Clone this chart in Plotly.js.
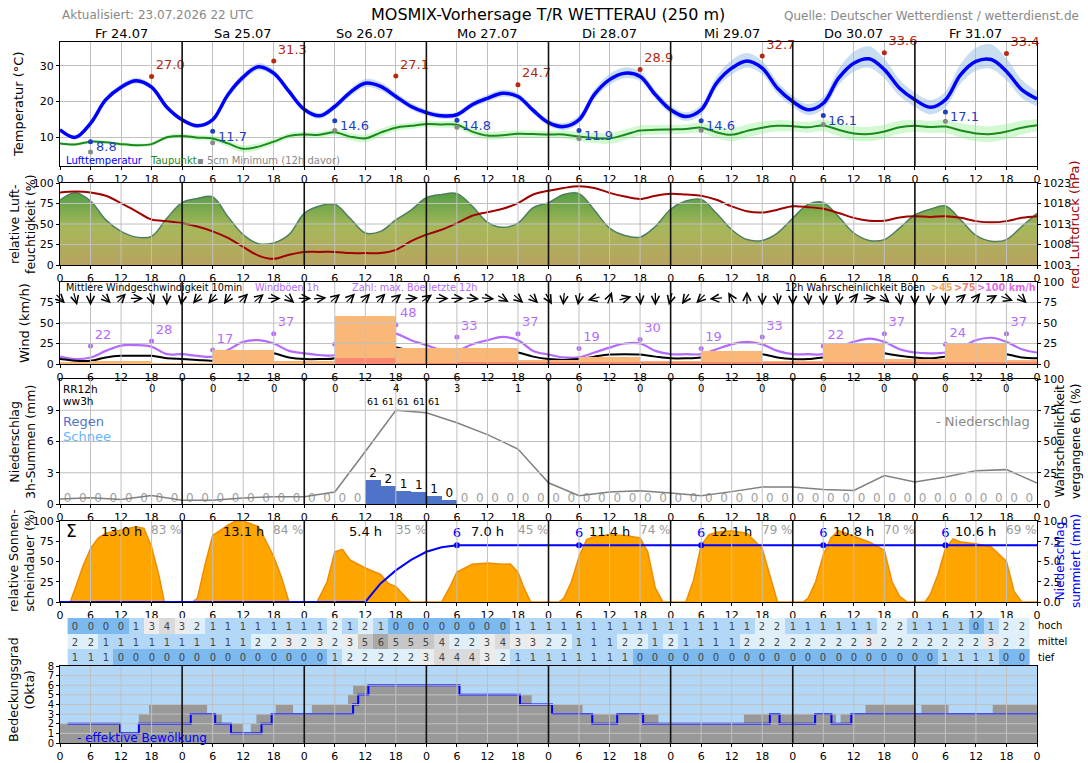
<!DOCTYPE html>
<html><head><meta charset="utf-8">
<script src="https://cdn.plot.ly/plotly-3.0.1.min.js"></script>
<style>html,body{margin:0;padding:0;background:#fff}#chart{width:1088px;height:763px}</style>
</head><body><div id="chart"></div>
<script>
// ---------------- DATA ----------------
const dayNames = ["Fr 24.07","Sa 25.07","So 26.07","Mo 27.07","Di 28.07","Mi 29.07","Do 30.07","Fr 31.07"];
const hours3 = []; for (let h = 0; h <= 192; h += 3) hours3.push(h);

const temp = [12.1,10.0,13.9,20.5,24.0,25.8,24.0,18.4,14.9, 13.2,14.9,21.9,26.8,29.7,27.9,22.8,17.8, 16.0,18.6,22.5,25.1,24.2,21.4,18.6,16.9, 16.0,16.3,19.1,20.9,22.3,21.4,17.5,14.1, 13.0,14.9,21.9,26.1,27.9,27.0,21.9,17.7, 15.8,17.7,25.1,29.3,31.3,29.3,23.7,20.0, 17.7,19.5,26.5,30.7,31.9,28.9,23.7,20.5, 18.4,20.5,27.5,31.2,31.7,28.4,23.3,20.7];
const tempUp = [0.5,0.5,0.6,0.7,0.8,0.8,0.7,0.6,0.6, 0.6,0.7,0.9,1.0,1.0,0.9,0.8,0.8, 0.8,0.9,1.0,1.2,1.2,1.1,1.0,0.9, 0.8,0.8,0.9,1.0,1.0,0.9,0.9,0.9, 1.0,1.2,1.4,1.6,1.6,1.4,1.3,1.2, 1.2,1.4,1.8,2.2,2.2,2.0,1.8,1.6, 1.6,1.8,2.5,3.2,3.5,3.0,2.4,2.0, 2.0,2.3,3.0,3.8,4.2,3.6,2.8,2.2];
const tempDown = [0.5,0.5,0.6,0.7,0.8,0.8,0.7,0.6,0.6, 0.6,0.7,0.9,1.0,1.0,0.9,0.8,0.8, 0.8,0.9,1.0,1.1,1.1,1.0,0.9,0.9, 0.8,0.8,0.9,1.0,1.0,0.9,0.9,0.9, 1.0,1.1,1.2,1.4,1.4,1.3,1.2,1.2, 1.2,1.3,1.5,1.8,1.8,1.7,1.6,1.5, 1.5,1.6,2.0,2.4,2.5,2.4,2.2,2.0, 2.0,2.1,2.4,2.6,2.6,2.5,2.3,2.0];
const dewpoint = [8.3,8.0,8.8,8.6,8.1,7.8,8.1,10.0,10.4, 9.9,9.7,8.3,6.8,7.4,8.8,10.4,10.8, 10.7,11.4,10.2,9.7,11.3,12.7,13.2,13.7, 13.6,13.5,11.6,10.5,10.6,11.0,10.9,10.8, 10.8,10.2,9.8,9.7,10.7,11.9,12.1,12.2, 12.3,12.7,11.4,10.7,11.8,12.7,13.2,13.1, 12.8,13.3,12.1,11.1,10.9,11.6,12.8,13.2, 12.9,13.0,11.9,11.1,10.9,11.6,12.7,13.4];
const dewSpread = [0.4,0.4,0.4,0.4,0.5,0.5,0.5,0.6,0.7, 0.7,0.8,0.9,1.0,1.0,0.9,0.8,0.8, 0.8,0.9,1.0,1.1,1.1,1.0,0.9,0.9, 0.9,1.0,1.0,1.1,1.1,1.0,1.0,1.0, 1.1,1.2,1.4,1.5,1.5,1.4,1.3,1.3, 1.3,1.4,1.6,1.8,1.8,1.7,1.6,1.5, 1.5,1.6,1.8,2.0,2.0,1.9,1.8,1.7, 1.7,1.8,2.0,2.2,2.2,2.1,1.9,1.7];

const maxTempHours = [18,42,66,90,114,138,162,186];
const maxTemp = [27.0,31.3,27.1,24.7,28.9,32.7,33.6,33.4];
const minTempHours = [6,30,54,78,102,126,150,174];
const minTemp = [8.8,11.7,14.6,14.8,11.9,14.6,16.1,17.1];
const ground5cm = [5.9,8.5,11.9,12.8,9.7,12.0,13.6,14.5];

const humidity = [79,88,78,55,41,34,35,57,76, 81,83,59,37,26,27,37,63, 72,74,57,39,41,55,67,82, 86,87,72,52,46,51,70,76, 86,87,67,45,36,34,47,68, 78,80,63,43,31,30,39,57, 74,76,59,39,30,31,45,61, 68,72,55,36,29,31,47,63];
const pressure = [1020.7,1020.9,1020.7,1019.9,1018.1,1016.1,1014.1,1013.7,1013.2, 1012.4,1011.2,1009.6,1007.4,1005.3,1004.5,1005.5,1006.2, 1006.2,1006.2,1005.9,1005.9,1005.9,1006.7,1008.8,1010.4, 1011.6,1013.2,1015.0,1015.9,1016.7,1018.1,1020.2,1021.1, 1021.8,1022.2,1021.8,1020.6,1019.7,1019.1,1019.9,1020.4, 1020.2,1019.9,1018.9,1017.3,1016.1,1015.8,1016.5,1017.3, 1017.1,1016.7,1015.7,1014.5,1013.8,1013.8,1014.6,1014.9, 1014.7,1014.9,1014.5,1013.7,1013.4,1013.7,1014.5,1014.9];

const windGust = [9,6,8,16,22.5,23,21,12,12, 10,9,17,27,29,25,16,13, 11,11,25,35,39,37,29,23, 17,16,24,29,33,29,16,11.5, 8,8,14,20,25,25,16,12, 12,12,18,24,27,24,16,12, 12,12,20,27,31,27,18,14, 13,14,20,29,32,27,18,14];
const windMean = [6,4,4,8,10,10,10,7,6, 5,4,8,13.5,14,13,8,6, 6,7,16,20,23,20,16,12, 11,11,14,15.5,17,14,9,6, 5,6,9,11.5,12,11.5,9,7, 7,8,11.5,13,14,12,8,6, 6,8,11,13,15.5,13,10,8, 7,9,12,13,15,12,8,7];
const windDir = [315,345,0,315,225,270,340,0,10,40,40,35,225,230,270,310,270,265,230,225,225,225,230,265,235,270,270,275,275,300,310,315,
                 330,5,10,75,200,255,355,0,15,35,45,85,150,180,0,355,0,355,0,15,220,265,310,350,0,5,0,230,220,240,290,315];
const gustMaxHours = [6,18,30,42,54,66,78,90,102,114,126,138,150,162,174,186];
const gustMax = [22,28,17,37,24,48,33,37,19,30,19,33,22,37,24,37];
const gustProbHours = [0,12,24,36,48,60,72,84,96,108,120,132,144,156,168,180,192];
const gustProb45 = [2,4,1,17,4,58,19,20,5,9,4,16,4,25,6,25,5];
const gustProb75 = [0,0,0,0,0,7,1,2,2,2,2,2,2,3,2,3,2];

const precip3h = [0,0,0,0,0,0,0,0,0,0,0,0,0,0,0,0,0,0,0,0, 2.27,1.7,1.28,1.12,0.74,0.42, 0,0,0,0,0,0,0,0,0,0,0,0,0,0,0,0,0,0,0,0,0,0,0,0,0,0,0,0,0,0,0,0,0,0,0,0,0,0];
const rr12Hours = [18,30,42,54,66,78,90,102,114,126,138,150,162,174,186];
const rr12 = ["0","0","0","0","4","3","1","0","0","0","0","0","0","0","0"];
const ww3Hours = [61.5,64.5,67.5,70.5,73.5];
const ww3 = ["61","61","61","61","61"];
const precipProbHours = []; for (let h = 0; h <= 192; h += 6) precipProbHours.push(h);
const precipProb = [4,5,3.7,6.7,3,3,4.8,5.9,5.9,9.6,42,75,73,65,55.5,44,17,6.7,9.6,10.7,8.8,6.7,9.9,13.6,13.6,11.7,10.9,22.7,17.6,21.6,26.7,27.5,16.8];

const sunHours = [0,2,3,4.5,6,7.5,9,12,15,16.5,18,19.5,20.5,24, 26,27,28.5,30,31.5,33,34.5,36,39,42,43.5,45,48, 50.5,52.5,54,55.5,57,60,63,64.5,66,68.8,72, 75,76.5,78,81,84,87,88.5,90,91,92.5,96, 98,99,100.5,102,103.5,105,108,111,114,115.5,117,118.5,120, 123,124.5,126,127.5,129,132,135,138,139.5,141,144, 146,147,148.5,150,151.5,153,156,159,162,163.5,165,166.5,168, 170,171,172.5,174,175.5,177,180,183,186,187.5,189,192];
const sunPct = [0,0,17,44,66,79,85,89,93,91,68,31,0,0, 0,4.5,46,82,89,95,100,100,93,56,31,0,0, 0,25,62,65,52,42,34,23,19,0,0, 0,17,37,46.5,48,46.5,47,37,20,0,0, 0,4.5,25,56,77,81,83,82,79,62,17,0,0, 0,27,70,83,86,88,85,66,33,0,0, 0,4.5,25,58,79,88,81,74,64,25,7,0,0, 0,9,33,66,78,74,72,68,50,13,0,0];
const sunDayHours = ["13.0 h","13.1 h","5.4 h","7.0 h","11.4 h","12.1 h","10.8 h","10.6 h"];
const sunDayPct = ["83 %","84 %","35 %","45 %","74 %","79 %","70 %","69 %"];
const precipSumHours = [0,60,63,66,69,72,75,78,192];
const precipSum = [0,0,2.3,3.9,5.2,6.2,6.75,7.0,7.0];
const precipSumMarkHours = [78,102,126,150,174];
const precipSumMark = [7.0,7.0,7.0,7.0,7.0];
const precipSumMarkLabel = ["6","6","6","6","6"];

const cloudLayerHours = []; for (let h = 3; h <= 189; h += 3) cloudLayerHours.push(h);
const cloudHigh = [0,0,0,0,1,3,4,3,2,1,1,1,1,1,1,1,1,2,1,2,1,0,0,0,0,0,0,0,0,1,1, 1,1,1,1,1,1,1,1,1,1,1,1,1,1,2,2,1,1,1,1,1,1,2,2,1,1,1,1,0,1,2,2];
const cloudMid = [2,2,1,1,1,1,1,1,1,1,1,1,2,2,3,2,3,2,3,5,6,5,5,5,4,2,2,3,4,3,3, 2,2,1,1,1,2,2,1,2,1,1,1,1,2,2,2,2,2,2,2,2,3,2,2,2,2,2,2,2,3,2,2];
const cloudLow = [1,1,1,0,0,0,0,0,0,0,0,0,0,0,0,0,0,1,2,2,2,2,2,3,4,4,4,3,2,1,1, 1,1,1,1,1,1,0,0,0,0,0,0,0,0,0,0,0,0,0,0,0,0,0,0,0,0,1,1,1,1,0,0];
const cloudLayerNames = ["tief","mittel","hoch"];

const cloudTotHours = [0,11.8,15.5,17.5,28.9,31.8,36,37.5,38.6,42.4,45.8,49.5,56.6,57.6,78.3,92.7,102.7,117.6,134.4,152.5,153.4,158.3,168,169.3,174.6,183.3,192];
const cloudTot = [2,1,3,4,3,2,1,2,3,4,3,4,5,6,5,4,3,2,3,2,3,4,3,4,3,4,4];
const cloudEffHours = [1.5,11.8,15.5,25.7,30.5,33.6,39.6,41.6,57.6,58.6,60.6,78.5,90.4,96.7,104.6,109.5,114.6,139.5,141.4,148.4,151.6,155.5,192];
const cloudEff = [2,1,2,3,2,1,2,3,4,5,6,5,4,3,2,3,2,3,2,3,2,3,3];

// ---------------- LAYOUT HELPERS ----------------
const FONT = 'DejaVu Sans, Verdana, sans-serif';
const W = 1088, H = 763, X0 = 60, X1 = 1037;
const fx = p => p / W, fy = p => 1 - p / H;
const P = {temp:[42,166], hum:[183,265], wind:[282,364], prec:[379,504], sun:[521,602], tab:[618,665], cloud:[666,743]};
const dom = k => [fy(P[k][1]), fy(P[k][0])];
const tick6 = [], tickTxt = [];
for (let h = 0; h <= 192; h += 6) { tick6.push(h); tickTxt.push(String(h % 24)); }
const GRID = '#c0c0c0';

function xa(anchor, extra) {
  return Object.assign({domain:[fx(X0), fx(X1)], anchor:anchor, range:[0,192], tickmode:'array', tickvals:tick6, ticktext:tickTxt,
    showgrid:false, zeroline:false, showline:true, mirror:true, linecolor:'#000', linewidth:1, ticks:'outside', ticklen:3,
    tickcolor:'#000', tickfont:{family:FONT, size:11, color:'#000'}, fixedrange:true}, extra || {});
}
function ya(anchor, domain, range, tickvals, extra) {
  return Object.assign({domain:domain, anchor:anchor, range:range, tickmode:'array', tickvals:tickvals, showgrid:false, zeroline:false,
    showline:true, mirror:true, linecolor:'#000', linewidth:1, ticks:'outside', ticklen:3, tickcolor:'#000',
    tickfont:{family:FONT, size:11, color:'#000'}, fixedrange:true}, extra || {});
}
const shapes = [];
function gridShapes(xr, yr, yvals, vertical) {
  if (vertical) for (let h = 6; h < 192; h += 6) if (h % 24) shapes.push({type:'line', xref:xr, yref:yr + ' domain', x0:h, x1:h, y0:0, y1:1, line:{color:GRID, width:1}, layer:'above'});
  yvals.forEach(v => shapes.push({type:'line', xref:xr + ' domain', yref:yr, x0:0, x1:1, y0:v, y1:v, line:{color:GRID, width:1}, layer:'above'}));
}
function dayLines(xr, yr) {
  for (let h = 24; h < 192; h += 24) shapes.push({type:'line', xref:xr, yref:yr + ' domain', x0:h, x1:h, y0:0, y1:1, line:{color:'#111', width:1.6}, layer:'above'});
}
shapes.push({type:'rect', xref:'x7 domain', yref:'y11 domain', x0:0, x1:1, y0:0, y1:1, fillcolor:'#b3d7f7', line:{width:0}, layer:'below'});
gridShapes('x2','y2',[25,50,75],true); dayLines('x2','y2');
gridShapes('x3','y4',[25,50,75],true); dayLines('x3','y4');
gridShapes('x4','y6',[3,6,9],true); dayLines('x4','y6');
gridShapes('x5','y8',[],true); dayLines('x5','y8');
gridShapes('x7','y11',[1,2,3,4,5,6,7],true); dayLines('x7','y11');
dayLines('x','y');

const ann = [];
function T(text, x, y, o) {
  o = o || {};
  ann.push({text:text, x:fx(x), y:fy(y), xref:'paper', yref:'paper', showarrow:false, xanchor:o.xa || 'left', yanchor:'middle',
    textangle:o.angle || 0, align:'center', font:{family:FONT, size:o.size || 11, color:o.color || '#000'}});
}
// titles
T('MOSMIX-Vorhersage T/R WETTERAU (250 m)', 548, 14, {xa:'center', size:16});
T('Aktualisiert: 23.07.2026 22 UTC', 60, 15, {size:12, color:'#888'});
T('Quelle: Deutscher Wetterdienst / wetterdienst.de', 1081, 16, {xa:'right', size:12, color:'#888'});
dayNames.forEach((d, i) => ann.push({text:d, x:12 + 24 * i, y:fy(33), xref:'x', yref:'paper', showarrow:false, xanchor:'center', yanchor:'middle', font:{family:FONT, size:13, color:'#000'}}));
// axis titles
T('Temperatur (°C)', 18, 104, {xa:'center', angle:-90, size:13});
T('relative Luft-<br>feuchtigkeit (%)', 22, 224, {xa:'center', angle:-90, size:12.5});
T('Wind (km/h)', 25, 323, {xa:'center', angle:-90, size:13});
T('Niederschlag<br>3h-Summen (mm)', 22, 442, {xa:'center', angle:-90, size:12.5});
T('relative Sonnen-<br>scheindauer (%)', 21, 561, {xa:'center', angle:-90, size:12.5});
T('Bedeckungsgrad<br>(Okta)', 21, 690, {xa:'center', angle:-90, size:12.5});
T('red. Luftdruck (hPa)', 1074, 225, {xa:'center', angle:-90, size:13, color:'#a00000'});
T('Wahrscheinlichkeit<br>vergangene 6h (%)', 1068, 442, {xa:'center', angle:-90, size:12});
T('Niederschlag<br>summiert (mm)', 1068, 561, {xa:'center', angle:-90, size:12, color:'#0000ff'});
// legends / notes
T('Lufttemperatur', 64, 160, {color:'#0000ff', size:10});
T('Taupunkt', 148, 160, {color:'#1a8a1a', size:10});
T('▪ 5cm Minimum (12h davor)', 195, 160, {color:'#888', size:10});
T('Mittlere Windgeschwindigkeit 10min', 64, 287, {size:9.7});
T('Windböen 1h', 253, 287, {size:9.7, color:'#b36bff'});
T('Zahl: max. Böe letzte 12h', 350, 287, {size:9.7, color:'#b36bff'});
T('12h Wahrscheinlichkeit Böen', 927, 287, {xa:'right', size:9.7});
T('<b>>45</b>', 929, 287, {size:9.7, color:'#f5a55a'});
T('<b>>75</b>', 952, 287, {size:9.7, color:'#f08070'});
T('<b>>100 km/h</b>', 975, 287, {size:9.7, color:'#e070e0'});
T('RR12h', 61, 389, {size:10.5});
T('ww3h', 61, 401, {size:10.5});
T('Regen', 61, 421, {size:13, color:'#4f73c9'});
T('Schnee', 61, 436, {size:13, color:'#6ab4ff'});
T('- Niederschlag', 1032, 421, {xa:'right', size:13, color:'#888'});
T('Σ', 64, 531, {size:17});
T('- effektive Bewölkung', 75, 738, {size:12, color:'#0000ff'});
rr12Hours.forEach((h, i) => ann.push({text:rr12[i], x:h, y:fy(389), xref:'x4', yref:'paper', showarrow:false, xanchor:'center', yanchor:'middle', font:{family:FONT, size:10, color:'#000'}}));
ww3Hours.forEach((h, i) => ann.push({text:ww3[i], x:h, y:fy(401), xref:'x4', yref:'paper', showarrow:false, xanchor:'center', yanchor:'middle', font:{family:FONT, size:9.5, color:'#000'}}));
sunDayHours.forEach((s, i) => {
  ann.push({text:s, x:12 + 24 * i, y:fy(531), xref:'x5', yref:'paper', showarrow:false, xanchor:'center', yanchor:'middle', font:{family:FONT, size:13, color:'#000'}});
  ann.push({text:sunDayPct[i], x:21 + 24 * i, y:fy(530), xref:'x5', yref:'paper', showarrow:false, xanchor:'center', yanchor:'middle', font:{family:FONT, size:12, color:'#999'}});
});
// minimum temperature labels, slightly below and right of their markers
minTempHours.forEach((h, i) => ann.push({text:minTemp[i].toFixed(1), x:h, y:minTemp[i], xref:'x', yref:'y', showarrow:false,
  xanchor:'left', yanchor:'middle', xshift:3, yshift:-5, font:{family:FONT, size:13, color:'#1f3fbf'}}));
// wind direction arrows
const PXH = (X1 - X0) / 192, PXW = (P.wind[1] - P.wind[0]) / 100, AL = 14;
windDir.forEach((d, i) => {
  const t = (d + 180) * Math.PI / 180, h = i * 3;
  const dx = Math.sin(t) * AL / 2 / PXH, dy = Math.cos(t) * AL / 2 / PXW;
  ann.push({text:'', x:h + dx, y:80 + dy, ax:h - dx, ay:80 - dy, xref:'x3', yref:'y4', axref:'x3', ayref:'y4', showarrow:true,
    arrowhead:5, arrowsize:1.3, arrowwidth:1.2, arrowcolor:'#000'});
});

// ---------------- TRACES ----------------
const add = (a, b, s) => a.map((v, i) => +(v + s * b[i]).toFixed(2));
const data = [];
// temperature panel
data.push({x:hours3, y:add(temp, tempUp, 1), mode:'lines', line:{width:0, shape:'spline'}, xaxis:'x', yaxis:'y', hoverinfo:'skip'});
data.push({x:hours3, y:add(temp, tempDown, -1), mode:'lines', line:{width:0, shape:'spline'}, fill:'tonexty', fillcolor:'rgba(150,190,230,0.5)', xaxis:'x', yaxis:'y', hoverinfo:'skip'});
data.push({x:hours3, y:add(dewpoint, dewSpread, 1), mode:'lines', line:{width:0, shape:'spline'}, xaxis:'x', yaxis:'y', hoverinfo:'skip'});
data.push({x:hours3, y:add(dewpoint, dewSpread, -1), mode:'lines', line:{width:0, shape:'spline'}, fill:'tonexty', fillcolor:'rgba(140,240,140,0.38)', xaxis:'x', yaxis:'y', hoverinfo:'skip'});
data.push({x:hours3, y:dewpoint, mode:'lines', line:{color:'#1a8a1a', width:2, shape:'spline'}, xaxis:'x', yaxis:'y'});
data.push({x:hours3, y:temp, mode:'lines', line:{color:'#0000ff', width:3.5, shape:'spline'}, xaxis:'x', yaxis:'y'});
data.push({x:minTempHours, y:ground5cm, mode:'markers', marker:{color:'#888', size:5}, xaxis:'x', yaxis:'y'});
data.push({x:maxTempHours, y:maxTemp, mode:'markers+text', text:maxTemp.map(v => v.toFixed(1)), textposition:'top right',
  textfont:{family:FONT, size:13, color:'#b52a10'}, marker:{color:'#b52a10', size:5}, xaxis:'x', yaxis:'y', cliponaxis:false});
data.push({x:minTempHours, y:minTemp, mode:'markers', marker:{color:'#1f3fbf', size:5}, xaxis:'x', yaxis:'y'});
// humidity / pressure
data.push({x:hours3, y:humidity, mode:'lines', line:{color:'#4f7f5f', width:1.5, shape:'spline'}, fill:'tozeroy',
  fillgradient:{type:'vertical', start:0, stop:100, colorscale:[[0,'#b7a35f'],[0.45,'#a8b75a'],[1,'#3f963c']]}, xaxis:'x2', yaxis:'y2'});
data.push({x:hours3, y:pressure, mode:'lines', line:{color:'#a00000', width:2, shape:'spline'}, xaxis:'x2', yaxis:'y3'});
// wind
data.push({type:'bar', x:gustProbHours, y:gustProb45, width:12, marker:{color:'#f9b878', line:{width:0}}, xaxis:'x3', yaxis:'y5'});
data.push({type:'bar', x:gustProbHours, y:gustProb75, width:12, marker:{color:'#f88870', line:{width:0}}, xaxis:'x3', yaxis:'y5'});
data.push({x:hours3, y:windGust, mode:'lines', line:{color:'#b36bff', width:2.2, shape:'spline'}, xaxis:'x3', yaxis:'y4'});
data.push({x:hours3, y:windMean, mode:'lines', line:{color:'#000', width:2, shape:'spline'}, xaxis:'x3', yaxis:'y4'});
data.push({x:gustMaxHours, y:gustMax, mode:'markers+text', text:gustMax.map(String), textposition:'top right',
  textfont:{family:FONT, size:13, color:'#b36bff'}, marker:{color:'#b36bff', size:5}, xaxis:'x3', yaxis:'y4', cliponaxis:false});
// precipitation
const slotHours = precip3h.map((v, i) => 1.5 + 3 * i);
data.push({type:'bar', x:slotHours, y:precip3h, width:3, marker:{color:'#4f73c9', line:{width:0}}, xaxis:'x4', yaxis:'y6'});
data.push({x:precipProbHours, y:precipProb, mode:'lines', line:{color:'#808080', width:1.5}, xaxis:'x4', yaxis:'y7'});
const zeroSlots = slotHours.filter((h, i) => precip3h[i] === 0);
data.push({x:zeroSlots, y:zeroSlots.map(() => 0.5), mode:'text', text:zeroSlots.map(() => '0'), textposition:'middle center',
  textfont:{family:FONT, size:12, color:'#a0a0a0'}, xaxis:'x4', yaxis:'y6'});
const wetSlots = slotHours.filter((h, i) => precip3h[i] > 0);
const wetVals = precip3h.filter(v => v > 0);
data.push({x:wetSlots, y:wetVals, mode:'text', text:wetVals.map(v => String(Math.round(v))), textposition:'top center',
  textfont:{family:FONT, size:12, color:'#000'}, xaxis:'x4', yaxis:'y6'});
// sunshine
data.push({x:sunHours, y:sunPct, mode:'lines', line:{color:'#f08c00', width:1.5}, fill:'tozeroy', fillcolor:'#ffa500', xaxis:'x5', yaxis:'y8'});
data.push({x:precipSumHours, y:precipSum, mode:'lines', line:{color:'#0000ff', width:2}, xaxis:'x5', yaxis:'y9'});
data.push({x:precipSumMarkHours, y:precipSumMark, mode:'markers+text', text:precipSumMarkLabel, textposition:'top center',
  textfont:{family:FONT, size:13, color:'#0000ff'}, marker:{color:'#0000ff', size:6}, xaxis:'x5', yaxis:'y9', cliponaxis:false});
// cloud layers table
const layerColors = ['#7cb9ee','#b3d7f7','#dff0fa','#ececec','#dadada','#c6c6c6','#a8a8a8','#909090','#787878'];
const cs = []; layerColors.forEach((c, i) => { cs.push([i / 9, c]); cs.push([(i + 1) / 9, c]); });
data.push({type:'heatmap', x:cloudLayerHours, y:[0,1,2], z:[cloudLow, cloudMid, cloudHigh], zmin:-0.5, zmax:8.5, colorscale:cs, showscale:false,
  texttemplate:'%{z}', textfont:{family:FONT, size:10, color:'#444'}, xaxis:'x6', yaxis:'y10', hoverinfo:'skip'});
// total / effective cloud cover
data.push({x:cloudTotHours, y:cloudTot, mode:'lines', line:{width:0, shape:'hv'}, fill:'tozeroy', fillcolor:'#999999', xaxis:'x7', yaxis:'y11'});
data.push({x:cloudEffHours, y:cloudEff, mode:'lines', line:{color:'#0000ff', width:2, shape:'hv'}, xaxis:'x7', yaxis:'y11'});

const layout = {
  width:W, height:H, margin:{l:0, r:0, t:0, b:0}, paper_bgcolor:'#fff', plot_bgcolor:'rgba(0,0,0,0)', showlegend:false,
  barmode:'overlay', bargap:0, font:{family:FONT, size:11, color:'#000'}, hovermode:false,
  xaxis: xa('y', {showgrid:true, gridcolor:GRID}),
  yaxis: ya('x', dom('temp'), [2,36.6], [10,20,30], {showgrid:true, gridcolor:GRID}),
  xaxis2: xa('y2'),
  yaxis2: ya('x2', dom('hum'), [0,100], [0,25,50,75,100]),
  yaxis3: ya('x2', dom('hum'), [1003,1023], [1003,1008,1013,1018,1023], {overlaying:'y2', side:'right', showline:false, mirror:false}),
  xaxis3: xa('y4'),
  yaxis4: ya('x3', dom('wind'), [0,100], [0,25,50,75]),
  yaxis5: ya('x3', dom('wind'), [0,100], [0,25,50,75,100], {overlaying:'y4', side:'right', showline:false, mirror:false}),
  xaxis4: xa('y6'),
  yaxis6: ya('x4', dom('prec'), [0,12], [0,3,6,9]),
  yaxis7: ya('x4', dom('prec'), [0,100], [0,25,50,75,100], {overlaying:'y6', side:'right', showline:false, mirror:false}),
  xaxis5: xa('y8'),
  yaxis8: ya('x5', dom('sun'), [0,100], [0,25,50,75,100]),
  yaxis9: ya('x5', dom('sun'), [0,10], [0,2.5,5,7.5,10], {overlaying:'y8', side:'right', showline:false, mirror:false, tickformat:'.1f'}),
  xaxis6: xa('y10', {showline:false, mirror:false, ticks:'', showticklabels:false}),
  yaxis10: ya('x6', dom('tab'), [-0.5,2.5], [0,1,2], {side:'right', ticktext:cloudLayerNames, showline:false, mirror:false, ticks:'', tickfont:{family:FONT, size:10, color:'#000'}}),
  xaxis7: xa('y11'),
  yaxis11: ya('x7', dom('cloud'), [0,8], [0,1,2,3,4,5,6,7,8], {tickfont:{family:FONT, size:10, color:'#000'}})
};
layout.shapes = shapes; layout.annotations = ann;
Plotly.newPlot('chart', data, layout, {staticPlot:true, displayModeBar:false});
</script></body></html>
